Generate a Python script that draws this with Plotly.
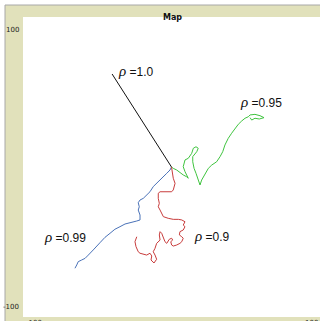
"""Mapa de caminatas aleatorias correlacionadas (estilo NetLogo)."""
import plotly.graph_objects as go

ANCHO, ALTO = 320, 321
M_IZQ, M_SUP, M_INF = 23, 17, 4
COLOR_BEIGE = "#e1e1bb"
COLOR_BORDE = "#a8a8a8"

# rho = 1.0
rho10_x = [0, -40]
rho10_y = [0, 62]

# rho = 0.99
rho99_x = [0, -1.0, -3.2, -5.5, -7.7, -10.0, -12.3, -14.5, -16.7, -19.0, -21.2,
           -22.4, -21.7, -22.4, -21.2, -21.2, -23.4, -25.7, -27.9, -31.3, -34.7,
           -38.1, -41.4, -44.8, -48.2, -50.4, -52.7, -56.0, -58.2, -60.5, -62.8,
           -63.8, -65.0]
rho99_y = [0, -2.0, -4.2, -6.5, -9.1, -10.9, -13.1, -16.5, -18.7, -20.9, -22.0,
           -23.8, -26.5, -28.7, -32.0, -35.3, -36.0, -36.5, -37.1, -38.0, -39.8,
           -41.5, -44.2, -46.9, -50.5, -53.1, -55.3, -58.7, -60.9, -62.0, -63.1,
           -65.3, -67.5]

# rho = 0.95
rho95_x = [0, 1.2, 3.5, 5.7, 7.9, 10.2, 11.3, 9.1, 7.9, 9.1, 11.3, 13.6, 14.7,
           16.5, 18.0, 17.0, 14.3, 14.3, 15.2, 16.5, 18.0, 19.2, 20.3, 22.6, 24.8,
           27.1, 30.4, 32.7, 34.5, 36.0, 38.2, 40.5, 42.8, 45.0, 47.3, 49.5, 51.7,
           52.9, 56.2, 59.6, 62.3, 59.1, 56.2, 54.0, 52.9]
rho95_y = [0, -0.9, -2.0, -3.8, -5.3, -6.5, -7.5, -3.1, 0.2, 4.7, 5.8, 9.1, 12.5,
           13.5, 12.5, 10.2, 6.9, 3.5, -0.9, -4.2, -8.7, -12.0, -8.7, -4.2, -0.9,
           1.3, 3.5, 6.9, 10.2, 14.7, 19.1, 22.5, 25.8, 28.5, 30.7, 32.5, 33.5,
           34.7, 35.1, 34.2, 32.9, 32.0, 32.5, 31.3, 32.9]

# rho = 0.9
rho90_x = [0, 0.8, 1.2, 2.4, 1.9, 1.2, 0.1, -2.2, -5.5, -7.7, -8.9, -8.9, -8.2,
           -8.9, -7.7, -6.6, -5.5, -2.2, 1.2, 4.6, 6.9, 9.1, 7.9, 9.1, 7.9, 5.7,
           5.3, 6.9, 7.9, 6.9, 5.7, 3.5, 1.2, 0.1, -0.5, 0.8, 0.1, -1.5, -2.2,
           -3.2, -4.4, -5.5, -6.6, -7.7, -8.2, -7.7, -8.9, -10.0, -11.1, -12.3,
           -11.1, -10.0, -11.8, -13.8, -13.3, -14.5, -16.7, -19.0, -21.2, -22.4,
           -23.9, -24.6, -23.4]
rho90_y = [0, -4.2, -7.5, -10.9, -13.1, -15.3, -16.5, -16.5, -16.5, -16.5, -17.5,
           -20.9, -24.2, -26.5, -28.7, -30.9, -33.1, -34.2, -34.9, -34.9, -35.3,
           -36.5, -38.7, -39.8, -42.0, -43.1, -45.3, -46.5, -47.5, -49.8, -50.9,
           -52.0, -52.7, -52.0, -49.8, -48.7, -47.5, -48.2, -49.8, -50.9, -49.8,
           -46.5, -44.2, -43.1, -45.3, -48.7, -49.8, -50.9, -54.2, -56.5, -58.7,
           -61.5, -64.0, -62.0, -59.3, -57.5, -58.7, -58.0, -57.5, -56.5, -53.1,
           -49.8, -46.5]

caminatas = [
    (rho10_x, rho10_y, "#111111"),
    (rho99_x, rho99_y, "#4a72b8"),
    (rho95_x, rho95_y, "#3fc43f"),
    (rho90_x, rho90_y, "#c83c3c"),
]

etiquetas = ["1.0", "0.99", "0.95", "0.9"]
etiq_x = [-24, -72, 60, 27]
etiq_y = [64, -46.5, 43.5, -46]


def px(x):
    return (x - M_IZQ) / (ANCHO - M_IZQ)


def py(y):
    return 1 - (y - M_SUP) / (ALTO - M_SUP - M_INF)


fig = go.Figure()
for xs, ys, color in caminatas:
    fig.add_trace(go.Scatter(x=xs, y=ys, mode="lines",
                             line=dict(color=color, width=1), hoverinfo="skip"))

for texto, x, y in zip(etiquetas, etiq_x, etiq_y):
    fig.add_annotation(
        x=x, y=y, xref="x", yref="y", showarrow=False,
        text=("<i><span style='font-family:Liberation Serif;font-size:15px'>ρ</span></i>"
              f" ={texto}"),
        font=dict(family="Liberation Sans, Arial", size=12, color="#111111"),
    )

# marco estilo NetLogo
fig.add_shape(type="rect", xref="paper", yref="paper", x0=px(0), x1=px(5),
              y0=py(ALTO), y1=py(0), fillcolor="white", line_width=0)
fig.add_shape(type="rect", xref="paper", yref="paper", x0=px(0), x1=px(ANCHO),
              y0=py(5), y1=py(0), fillcolor="white", line_width=0)
fig.add_shape(type="line", xref="paper", yref="paper", x0=px(5), x1=px(5),
              y0=py(ALTO), y1=py(5), line=dict(color=COLOR_BORDE, width=1))
fig.add_shape(type="line", xref="paper", yref="paper", x0=px(5), x1=px(ANCHO),
              y0=py(5), y1=py(5), line=dict(color=COLOR_BORDE, width=1))

fuente_ejes = dict(family="DejaVu Sans, Tahoma", size=7, color="#222222")
fig.add_annotation(x=px(21), y=py(24), xref="paper", yref="paper", text="100",
                   showarrow=False, xanchor="right", font=fuente_ejes)
fig.add_annotation(x=px(21), y=py(313), xref="paper", yref="paper", text="-100",
                   showarrow=False, xanchor="right", font=fuente_ejes)
fig.add_annotation(x=px(24), y=py(317), xref="paper", yref="paper", text="-100",
                   showarrow=False, xanchor="left", yanchor="top", font=fuente_ejes)
fig.add_annotation(x=px(ANCHO), y=py(317), xref="paper", yref="paper", text="100",
                   showarrow=False, xanchor="right", yanchor="top", font=fuente_ejes)
fig.add_annotation(x=px(172), y=py(11), xref="paper", yref="paper", text="<b>Map</b>",
                   showarrow=False, font=dict(family="DejaVu Sans, Tahoma", size=8,
                                              color="#111111"))

fig.update_layout(
    width=ANCHO, height=ALTO,
    margin=dict(l=M_IZQ, r=0, t=M_SUP, b=M_INF, pad=0),
    paper_bgcolor=COLOR_BEIGE, plot_bgcolor="white",
    showlegend=False,
    xaxis=dict(range=[-100, 100], showgrid=False, zeroline=False,
               showticklabels=False, ticks="", fixedrange=True),
    yaxis=dict(range=[-100, 100], showgrid=False, zeroline=False,
               showticklabels=False, ticks="", fixedrange=True),
)

fig.write_html("out.html", config={"displayModeBar": False},
               post_script="document.body.style.margin='0';"
                           "document.body.style.overflow='hidden';")
